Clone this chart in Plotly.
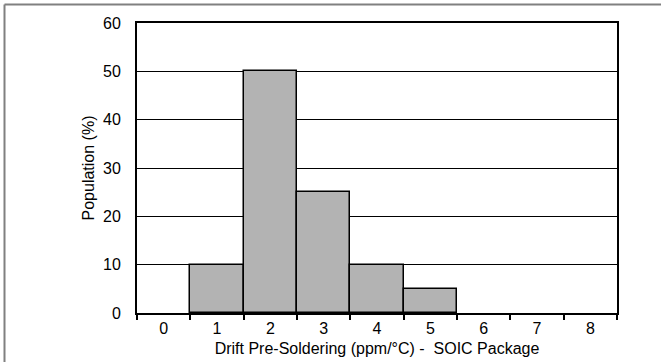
import plotly.graph_objects as go

categories = ["0", "1", "2", "3", "4", "5", "6", "7", "8"]
population = [0, 10, 50, 25, 10, 5, 0, 0, 0]
y_ticks = [0, 10, 20, 30, 40, 50, 60]

W, H = 661, 362
L, R, T, B = 137, 44, 23, 49
pw = W - L - R
ph = H - T - B

fig = go.Figure(go.Bar(
    x=categories, y=population,
    marker=dict(color="#b3b3b3",
                line=dict(color="black", width=[1.5 if v > 0 else 0 for v in population])),
))

font = "Liberation Sans, Arial, sans-serif"
fig.update_layout(
    width=W, height=H,
    margin=dict(l=L, r=R, t=T, b=B),
    paper_bgcolor="white", plot_bgcolor="white",
    bargap=0, showlegend=False,
    font=dict(family=font, size=16, color="black"),
    xaxis=dict(
        type="category", tickson="boundaries", ticks="outside", ticklen=5,
        tickwidth=2, tickcolor="black", showline=True, linecolor="black",
        linewidth=2, mirror=True, showgrid=False, automargin=False,
        title=dict(text="Drift Pre-Soldering (ppm/°C) -\u00a0 SOIC Package",
                   font=dict(size=16), standoff=7),
        tickfont=dict(size=16),
    ),
    yaxis=dict(
        range=[0, 60], tickvals=y_ticks, ticks="", showline=True,
        linecolor="black", linewidth=2, mirror=True, showgrid=True,
        gridcolor="black", gridwidth=1, zeroline=False, automargin=False,
        ticklabelstandoff=11,
        title=dict(text="Population (%)", font=dict(size=16), standoff=4),
        tickfont=dict(size=16),
    ),
)

# outer frame (top and left edges)
x_frame = (4.5 - L) / pw
y_frame = 1 + (T - 4.5) / ph
fig.add_shape(type="line", xref="paper", yref="paper",
              x0=x_frame, x1=(W - L) / pw + 0.01, y0=y_frame, y1=y_frame,
              line=dict(color="#808080", width=2))
fig.add_shape(type="line", xref="paper", yref="paper",
              x0=x_frame, x1=x_frame, y0=y_frame, y1=-(B + 5) / ph,
              line=dict(color="#808080", width=2))

fig.write_html("out.html", config={"displayModeBar": False},
               post_script="document.body.style.margin='0';document.body.style.overflow='hidden';")
